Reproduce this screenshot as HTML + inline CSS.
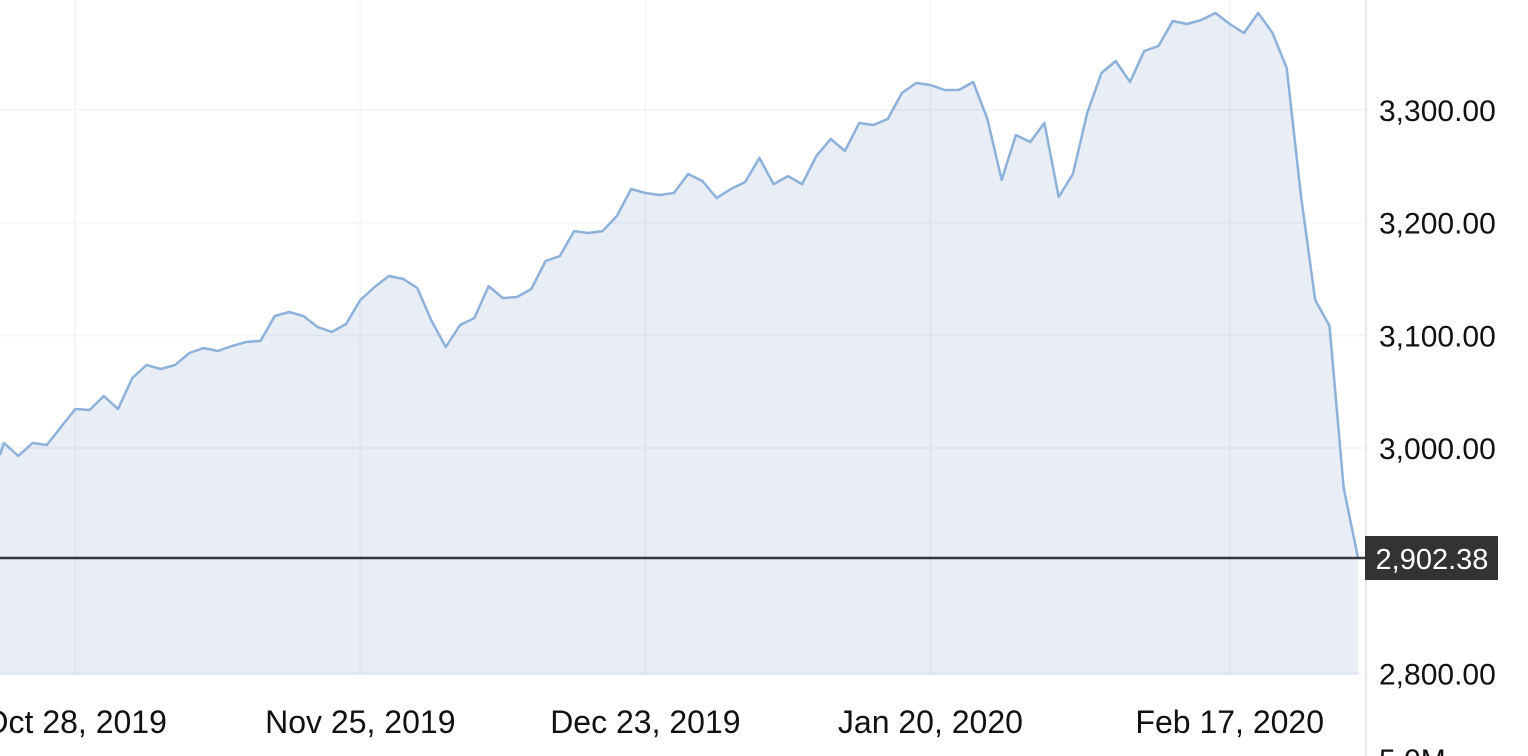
<!DOCTYPE html>
<html><head><meta charset="utf-8"><style>
html,body{margin:0;padding:0;background:#fff;}
svg{display:block;font-family:"Liberation Sans",Arial,sans-serif;}
</style></head><body>
<svg id="chart" width="1528" height="756" viewBox="0 0 1528 756"></svg>
<script>
const values=[3004.4,2992.9,3004.4,3002.7,3018.6,3034.6,3033.7,3046.1,3034.6,3062.1,
3073.6,3070.1,3073.6,3084.3,3088.7,3086.1,3090.5,3094.1,3094.9,3117.1,
3120.7,3117.1,3107.4,3102.9,3110.0,3131.3,3142.9,3152.6,3150.0,3142.0,
3112.7,3089.6,3109.1,3115.3,3143.7,3133.1,3134.0,3141.1,3165.9,3170.4,
3192.5,3190.8,3192.5,3205.9,3229.8,3226.3,3224.5,3226.3,3243.1,3236.9,
3221.8,3229.8,3236.0,3257.3,3234.2,3241.3,3234.2,3259.1,3274.2,3263.5,
3288.4,3286.6,3291.9,3315.0,3323.9,3322.1,3317.7,3317.7,3324.8,3291.9,
3237.8,3277.7,3271.5,3288.4,3222.7,3243.1,3297.2,3332.7,3343.4,3324.8,
3352.3,3356.7,3378.9,3376.2,3379.8,3386.0,3376.2,3368.2,3386.0,3368.2,
3337.2,3223.6,3131.3,3108.3,2964.5,2902.38];
const yTicks=[2800,3000,3100,3200,3300];
const yTickLabels=["2,800.00","3,000.00","3,100.00","3,200.00","3,300.00"];
const xTickIdx=[5,25,45,65,86];
const xTickLabels=["Oct 28, 2019","Nov 25, 2019","Dec 23, 2019","Jan 20, 2020","Feb 17, 2020"];
const lastLabel="2,902.38";

const NS="http://www.w3.org/2000/svg";
const svg=document.getElementById('chart');
const X0=4,X1=1358,BOTTOM=675;
const xs=i=>X0+i*(X1-X0)/(values.length-1);
const ys=v=>448-(v-3000)*1.127;
function mk(tag,attrs){const e=document.createElementNS(NS,tag);for(const k in attrs)e.setAttribute(k,attrs[k]);svg.appendChild(e);return e;}

yTicks.forEach((t,i)=>{
  const g=mk('line',{x1:0,x2:1365,y1:ys(t),y2:ys(t),stroke:'#f5f6f8','stroke-width':2});
  
  
});
xTickIdx.forEach((idx,i)=>{
  const g=mk('line',{x1:xs(idx),x2:xs(idx),y1:0,y2:BOTTOM,stroke:'#f5f6f8','stroke-width':2});
  
  
});
let d='M0,'+BOTTOM+' L0,'+ys(values[0]).toFixed(1);
values.forEach((v,i)=>{d+=' L'+xs(i).toFixed(1)+','+ys(v).toFixed(1);});
d+=' L'+xs(values.length-1).toFixed(1)+','+BOTTOM+' Z';
const area=mk('path',{d:d,fill:'rgba(120,150,200,0.17)'});


let ld='M0,'+(ys(values[0])+12).toFixed(1);
values.forEach((v,i)=>{ld+=' L'+xs(i).toFixed(1)+','+ys(v).toFixed(1);});
const line=mk('path',{d:ld,fill:'none',stroke:'#8cb1da','stroke-width':2.5,'stroke-linejoin':'round'});


const ax=mk('line',{x1:1366,x2:1366,y1:0,y2:756,stroke:'#e6e8ee','stroke-width':2});


const lv=values[values.length-1];
const pl=mk('line',{x1:0,x2:1366,y1:ys(lv),y2:ys(lv),stroke:'#333740','stroke-width':2.5});


const box=mk('rect',{x:1365,y:ys(lv)-22,width:133,height:44,fill:'#333333'});


const bt=mk('text',{x:1432,y:ys(lv)+11,'text-anchor':'middle','font-size':29,fill:'#fff'});
bt.textContent=lastLabel;


yTicks.forEach((t,i)=>{
  const tx=mk('text',{x:1379,y:ys(t)+11,'font-size':30,fill:'#111'});
  tx.textContent=yTickLabels[i];
  
  
});
xTickIdx.forEach((idx,i)=>{
  const tx=mk('text',{x:xs(idx),y:733,'text-anchor':'middle','font-size':32,fill:'#111'});
  tx.textContent=xTickLabels[i];
  
  
});
const vol=mk('text',{x:1379,y:770,'font-size':30,fill:'#111'});
vol.textContent="5.0M";


</script>
</body></html>
